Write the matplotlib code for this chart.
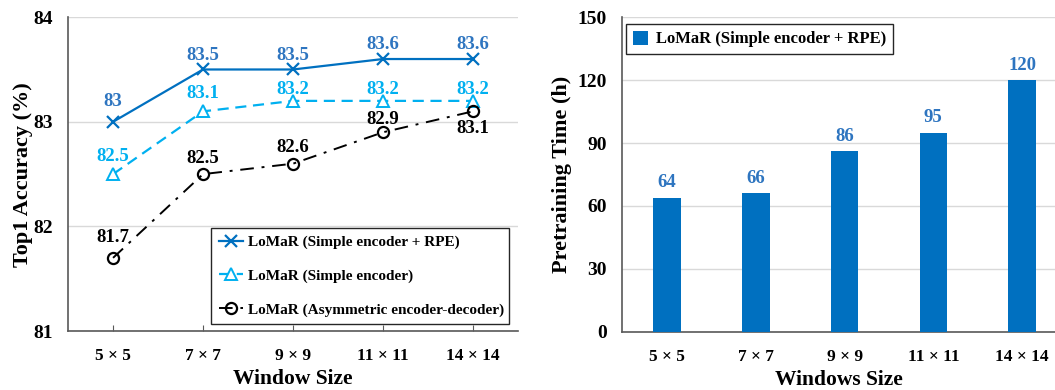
import numpy as np
import matplotlib
matplotlib.use("Agg")
import matplotlib.pyplot as plt

plt.rcParams['font.family'] = ['Liberation Serif', 'DejaVu Serif']
plt.rcParams['font.weight'] = 'bold'

# datos
ventanas = ['5 × 5', '7 × 7', '9 × 9', '11 × 11', '14 × 14']
acc_rpe = [83.0, 83.5, 83.5, 83.6, 83.6]
acc_simple = [82.5, 83.1, 83.2, 83.2, 83.2]
acc_asym = [81.7, 82.5, 82.6, 82.9, 83.1]
horas = [64, 66, 86, 95, 120]

# desplazamiento vertical de las etiquetas (pixeles)
off_rpe = [20, 14, 14, 15, 15]
off_simple = [18, 18, 11, 11, 11]
off_asym = [20, 16, 16, 13, -17]

azul = '#0070C0'
azul_claro = '#00B0F0'
azul_txt = '#2E75C0'
gris = '#595959'

fig = plt.figure(figsize=(10.55, 3.9), dpi=100)
ax1 = fig.add_axes([0.0645, 0.151, 0.4265, 0.805])
ax2 = fig.add_axes([0.5896, 0.149, 0.4104, 0.807])

ind = np.arange(len(ventanas))

# --- grafico de lineas ---
l1, = ax1.plot(ind, acc_rpe, color=azul, lw=1.6, marker='x', ms=8, mew=1.6,
               label='LoMaR (Simple encoder + RPE)', zorder=4)
l2, = ax1.plot(ind, acc_simple, color=azul_claro, lw=1.6, ls=(0, (5, 3)),
               marker='^', ms=8, mfc='white', mew=1.4,
               label='LoMaR (Simple encoder)', zorder=3)
l3, = ax1.plot(ind, acc_asym, color='black', lw=1.4, ls=(0, (7, 4, 1.5, 4)),
               marker='o', ms=8, mfc='none', mew=1.6,
               label='LoMaR (Asymmetric encoder-decoder)', zorder=3)

for serie, offs, col in ((acc_rpe, off_rpe, azul_txt),
                         (acc_simple, off_simple, azul_claro),
                         (acc_asym, off_asym, 'black')):
    for x, v, o in zip(ind, serie, offs):
        ax1.annotate('%g' % v, (x, v), xytext=(0, o * 0.72), textcoords='offset points',
                     ha='center', va='center', color=col, fontsize=13.5, fontweight='bold')

ax1.set_xlim(-0.5, 4.5)
ax1.set_ylim(81, 84)
ax1.set_yticks([81, 82, 83, 84])
ax1.set_xticks(ind)
ax1.set_xticklabels(ventanas)
ax1.set_ylabel('Top1 Accuracy (%)', fontsize=16, fontweight='bold')
ax1.yaxis.set_label_coords(-0.078, 0.5)
ax1.set_xlabel('Window Size', fontsize=15.5, fontweight='bold', va='top')
ax1.xaxis.set_label_coords(0.5, -0.122)

leg1 = ax1.legend(handles=[l1, l2, l3], loc='lower left',
                  bbox_to_anchor=(0.318, 0.022, 0.662, 0.30), mode='expand',
                  borderaxespad=0, fontsize=11, labelspacing=1.3, handlelength=1.6,
                  handletextpad=0.3, borderpad=0.5, fancybox=False,
                  edgecolor='#262626', framealpha=1)
leg1.get_frame().set_linewidth(1.0)

# --- grafico de barras ---
barras = ax2.bar(ind, horas, 0.31, color=azul, label='LoMaR (Simple encoder + RPE)', zorder=3)
for x, v in zip(ind, horas):
    ax2.annotate('%d' % v, (x, v), xytext=(0, 15 * 0.72), textcoords='offset points',
                 ha='center', va='center', color=azul_txt, fontsize=13.5, fontweight='bold')

ax2.set_xlim(-0.507, 4.37)
ax2.set_ylim(0, 150)
ax2.set_yticks([0, 30, 60, 90, 120, 150])
ax2.set_xticks(ind)
ax2.set_xticklabels(ventanas)
ax2.set_ylabel('Pretraining Time (h)', fontsize=16, fontweight='bold')
ax2.yaxis.set_label_coords(-0.115, 0.5)
ax2.set_xlabel('Windows Size', fontsize=15.5, fontweight='bold', va='top')
ax2.xaxis.set_label_coords(0.5, -0.122)

leg2 = ax2.legend(loc='upper left', bbox_to_anchor=(0.009, 0.978), borderaxespad=0,
                  fontsize=12, handlelength=0.9, handleheight=0.9, handletextpad=0.5,
                  borderpad=0.4, fancybox=False, edgecolor='#262626', framealpha=1)
leg2.get_frame().set_linewidth(1.0)

for ax in (ax1, ax2):
    ax.grid(axis='y', color='#D9D9D9', lw=1.0, zorder=0)
    ax.set_axisbelow(True)
    ax.spines['top'].set_visible(False)
    ax.spines['right'].set_visible(False)
    ax.spines['left'].set_color(gris)
    ax.spines['bottom'].set_color(gris)
    ax.spines['left'].set_linewidth(1.2)
    ax.spines['bottom'].set_linewidth(1.2)
    ax.tick_params(axis='y', length=0, pad=11, labelsize=14)
    ax.tick_params(axis='x', direction='in', length=4, color=gris, pad=12, labelsize=12.5)
    for t in ax.get_xticklabels() + ax.get_yticklabels():
        t.set_fontweight('bold')
ax2.tick_params(axis='x', length=0)

fig.savefig('out.png', dpi=100)
